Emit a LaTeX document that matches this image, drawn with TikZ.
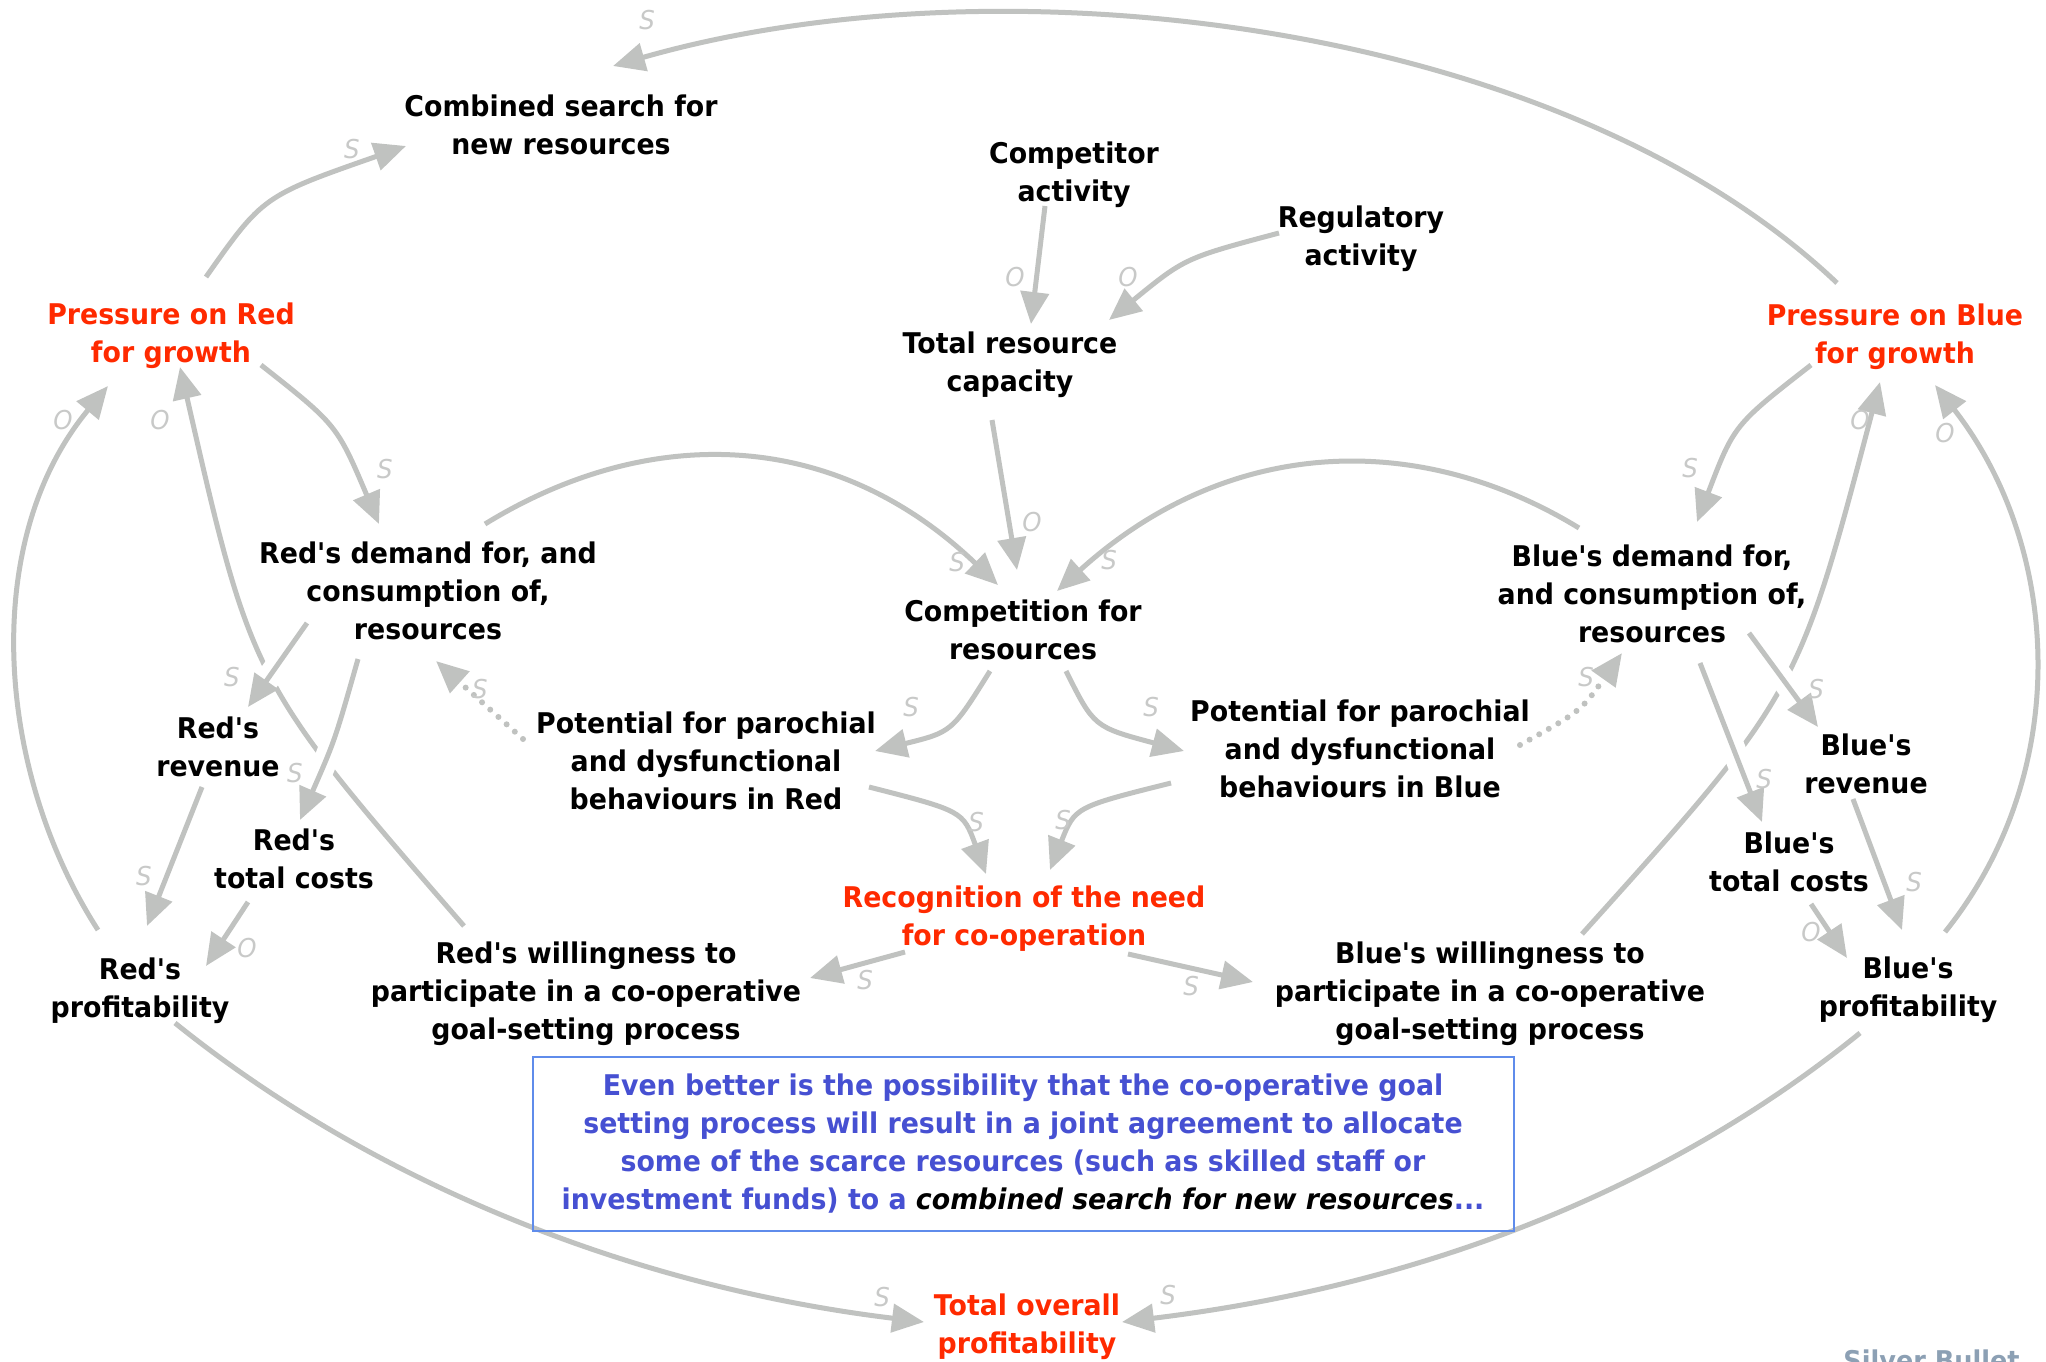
\documentclass[tikz,border=0pt]{standalone}
\usepackage{fontspec}
\setmainfont{DejaVu Sans}[FakeStretch=0.94, Ligatures=TeXOff]
\usetikzlibrary{arrows.meta}
\definecolor{linkgray}{RGB}{192,194,192}
\definecolor{signgray}{RGB}{200,201,200}
\definecolor{alertred}{RGB}{255,42,0}
\definecolor{noteblue}{RGB}{70,80,210}
\definecolor{frameblue}{RGB}{95,140,235}
\definecolor{brandgray}{RGB}{140,160,180}
\pgfdeclarelayer{fg}
\pgfsetlayers{main,fg}
\begin{document}
\begin{tikzpicture}[x=0.5pt,y=-0.5pt,
  var/.style={align=center, inner sep=0pt, font=\fontsize{14.25pt}{19pt}\selectfont\bfseries},
  hot/.style={var, text=alertred},
  sign/.style={inner sep=0pt, text=signgray, font=\fontsize{13pt}{15pt}\selectfont\itshape},
  link/.style={draw=linkgray, line width=2.5pt, -{Triangle[length=16pt,width=14pt]}},
  hop/.style={preaction={draw=white, line width=12pt, -}},
  hint/.style={link, line cap=round, dash pattern=on 0pt off 5.5pt, line width=3pt},
]
\fill[white] (0,0) rectangle (2046,1361);
\useasboundingbox (0,0) rectangle (2046,1361);

\begin{pgfonlayer}{fg}
% variables of the causal loop diagram
\node[var] (comb)  at (561,125)  {Combined search for\\new resources};
\node[var] (compA) at (1074,175) {Competitor\\activity};
\node[var] (regA)  at (1361,239) {Regulatory\\activity};
\node[var] (trc)   at (1010,365) {Total resource\\capacity};
\node[hot] (prR)   at (171,336)  {Pressure on Red\\for growth};
\node[hot] (prB)   at (1895,337) {Pressure on Blue\\for growth};
\node[var] (dR)    at (428,591)  {Red's demand for, and\\consumption of,\\resources};
\node[var] (comp)  at (1023,630) {Competition for\\resources};
\node[var] (dB)    at (1652,594) {Blue's demand for,\\and consumption of,\\resources};
\node[var] (revR)  at (218,747)  {Red's\\revenue};
\node[var] (potR)  at (706,761)  {Potential for parochial\\and dysfunctional\\behaviours in Red};
\node[var] (potB)  at (1360,749) {Potential for parochial\\and dysfunctional\\behaviours in Blue};
\node[var] (revB)  at (1866,764) {Blue's\\revenue};
\node[var] (tcR)   at (294,859)  {Red's\\total costs};
\node[var] (tcB)   at (1789,862) {Blue's\\total costs};
\node[hot] (rec)   at (1024,919) {Recognition of the need\\for co-operation};
\node[var] (wR)    at (586,994)  {Red's willingness to\\participate in a co-operative\\goal-setting process};
\node[var] (wB)    at (1490,994) {Blue's willingness to\\participate in a co-operative\\goal-setting process};
\node[var] (pfR)   at (140,991)  {Red's\\profitability};
\node[var] (pfB)   at (1908,990) {Blue's\\profitability};
\node[hot] (tot)   at (1027,1327) {Total overall\\profitability};
\node[var, draw=frameblue, line width=1pt, text=noteblue,
      minimum width=490.5pt, minimum height=87pt] (note) at (1023,1144)
  {Even better is the possibility that the co-operative goal\\
   setting process will result in a joint agreement to allocate\\
   some of the scarce resources (such as skilled staff or\\
   investment funds) to a \textcolor{black}{\itshape combined search for new resources}...};
\node[anchor=base west, inner sep=0pt, text=brandgray,
      font=\fontsize{13.6pt}{16pt}\selectfont\bfseries] (brand) at (1843,1370) {Silver Bullet};

% polarity signs
\node[sign] (sA)  at (647,20)   {S};
\node[sign] (sB)  at (352,149)  {S};
\node[sign] (sC)  at (1015,277) {O};
\node[sign] (sD)  at (1128,277) {O};
\node[sign] (sE)  at (1032,522) {O};
\node[sign] (sF)  at (957,562)  {S};
\node[sign] (sG)  at (1109,560) {S};
\node[sign] (sH)  at (385,469)  {S};
\node[sign] (sI)  at (1690,468) {S};
\node[sign] (sJ1) at (63,420)   {O};
\node[sign] (sWR) at (160,420)  {O};
\node[sign] (sWB) at (1860,420) {O};
\node[sign] (sJ2) at (1945,433) {O};
\node[sign] (sK)  at (232,677)  {S};
\node[sign] (sL)  at (295,773)  {S};
\node[sign] (sM)  at (144,876)  {S};
\node[sign] (sN)  at (247,948)  {O};
\node[sign] (sO)  at (882,1297) {S};
\node[sign] (sP)  at (1168,1295) {S};
\node[sign] (sQ)  at (1816,689) {S};
\node[sign] (sR)  at (1764,779) {S};
\node[sign] (sS)  at (1914,882) {S};
\node[sign] (sT)  at (1811,932) {O};
\node[sign] (sU)  at (911,707)  {S};
\node[sign] (sV)  at (1151,707) {S};
\node[sign] (sW)  at (480,689)  {S};
\node[sign] (sX)  at (1586,677) {S};
\node[sign] (sY)  at (976,822)  {S};
\node[sign] (sZ)  at (1063,820) {S};
\node[sign] (sAA) at (865,980)  {S};
\node[sign] (sAB) at (1191,986) {S};
\end{pgfonlayer}

% long feedback links drawn first, so that crossing links can cut them
\draw[link] ([shift={(-122,-68)}]wR.center) .. controls (252,682) .. ([shift={(9,31)}]prR.center);
\draw[link] ([shift={(92,-60)}]wB.center) .. controls (1798,694) .. ([shift={(-15,45)}]prB.center);

% demand -> revenue / costs (cross the willingness links)
\draw[link,hop] ([shift={(-121,32)}]dR.center) -- ([shift={(30,-40)}]revR.center);
\draw[link,hop] ([shift={(-70,68)}]dR.center) .. controls (335,740) .. ([shift={(6,-39)}]tcR.center);
\draw[link,hop] ([shift={(97,39)}]dB.center) -- ([shift={(-48,-37)}]revB.center);
\draw[link,hop] ([shift={(48,69)}]dB.center) -- ([shift={(-27,-40)}]tcB.center);

% top of the diagram
\draw[link] ([shift={(-58,-54)}]prB.center) .. controls (1560,20) and (1000,-45) .. ([shift={(52,-59)}]comb.center);
\draw[link] ([shift={(35,-59)}]prR.center) .. controls (263,196) .. ([shift={(-155,21)}]comb.center);
\draw[link] ([shift={(-29,31)}]compA.center) -- ([shift={(21,-41)}]trc.center);
\draw[link] ([shift={(-82,-6)}]regA.center) .. controls (1185,258) .. ([shift={(99,-45)}]trc.center);
\draw[link] ([shift={(-18,55)}]trc.center) -- ([shift={(-6,-60)}]comp.center);

% demand -> competition
\draw[link] ([shift={(57,-67)}]dR.center) .. controls (646,425) and (832,426) .. ([shift={(-25,-45)}]comp.center);
\draw[link] ([shift={(-73,-66)}]dB.center) .. controls (1417,429) and (1227,437) .. ([shift={(34,-39)}]comp.center);

% pressure -> demand
\draw[link] ([shift={(90,29)}]prR.center) .. controls (337,425) .. ([shift={(-49,-67)}]dR.center);
\draw[link] ([shift={(-84,28)}]prB.center) .. controls (1734,425) .. ([shift={(45,-72)}]dB.center);

% profitability -> pressure
\draw[link] ([shift={(-42,-61)}]pfR.center) .. controls (-5,770) and (-20,540) .. ([shift={(-63,50)}]prR.center);
\draw[link] ([shift={(37,-58)}]pfB.center) .. controls (2075,770) and (2060,545) .. ([shift={(40,48)}]prB.center);

% revenue / costs -> profitability
\draw[link] ([shift={(-16,40)}]revR.center) -- ([shift={(7,-65)}]pfR.center);
\draw[link] ([shift={(-46,43)}]tcR.center) -- ([shift={(66,-25)}]pfR.center);
\draw[link] ([shift={(-13,35)}]revB.center) -- ([shift={(-6,-60)}]pfB.center);
\draw[link] ([shift={(22,42)}]tcB.center) -- ([shift={(-61,-32)}]pfB.center);

% profitability -> total overall profitability
\draw[link] ([shift={(35,32)}]pfR.center) .. controls (370,1180) and (627,1286) .. ([shift={(-103,-5)}]tot.center);
\draw[link] ([shift={(-48,43)}]pfB.center) .. controls (1665,1191) and (1419,1286) .. ([shift={(95,-5)}]tot.center);

% competition -> parochial behaviours
\draw[link] ([shift={(-33,41)}]comp.center) .. controls (952,732) .. ([shift={(169,-10)}]potR.center);
\draw[link] ([shift={(43,41)}]comp.center) .. controls (1094,727) .. ([shift={(-176,2)}]potB.center);

% parochial behaviours -> demand (weak links)
\draw[hint] ([shift={(-183,-22)}]potR.center) -- ([shift={(8,70)}]dR.center);
\draw[hint] ([shift={(160,-4)}]potB.center) .. controls (1581,711) .. ([shift={(-30,59)}]dB.center);

% parochial behaviours -> recognition
\draw[link] ([shift={(163,26)}]potR.center) .. controls (963,811) .. ([shift={(-38,-45)}]rec.center);
\draw[link] ([shift={(-189,34)}]potB.center) .. controls (1075,807) .. ([shift={(26,-49)}]rec.center);

% recognition -> willingness
\draw[link] ([shift={(-119,33)}]rec.center) -- ([shift={(224,-16)}]wR.center);
\draw[link] ([shift={(104,35)}]rec.center) -- ([shift={(-237,-12)}]wB.center);
\end{tikzpicture}
\end{document}
